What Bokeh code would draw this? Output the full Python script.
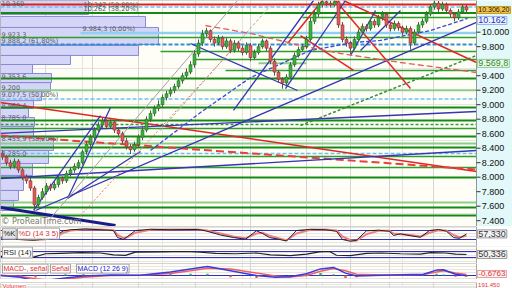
from bokeh.plotting import figure
from bokeh.layouts import column
from bokeh.models import Range1d, FixedTicker, Label, Grid, ColumnDataSource
from bokeh.embed import file_html
from bokeh.resources import INLINE
from bokeh.core.properties import value

# ---------------- price data (daily candles) ----------------
closes = [8280, 8200, 8150, 8220, 8100, 8000, 7950, 7850, 7620, 7720,
          7800, 7880, 7850, 7900, 7980, 7950, 8050, 8100, 8150, 8200,
          8350, 8450, 8550, 8650, 8720, 8780, 8700, 8760, 8650, 8600,
          8500, 8420, 8380, 8450, 8550, 8650, 8800, 8880, 8950, 9000,
          9100, 9150, 9200, 9250, 9330, 9400, 9450, 9550, 9700, 9850,
          9980, 10020, 9900, 9850, 9920, 9800, 9880, 9750, 9850, 9780,
          9720, 9820, 9650, 9720, 9800, 9880, 9780, 9600, 9450, 9350,
          9300, 9380, 9550, 9680, 9760, 9800, 9900, 10150, 10250, 10380,
          10420, 10400, 10380, 10420, 10100, 9900, 9850, 9780, 9900, 10000,
          10080, 10050, 10150, 10100, 10200, 10250, 10100, 10050, 10120, 10060,
          10000, 10050, 9850, 10000, 10100, 10150, 10250, 10350, 10400, 10320,
          10380, 10300, 10250, 10200, 10280, 10350, 10306]
opens = [8330, 8280, 8200, 8150, 8220, 8100, 8000, 7950, 7850, 7620,
         7720, 7800, 7880, 7850, 7900, 7980, 7950, 8050, 8100, 8150,
         8200, 8350, 8450, 8550, 8650, 8720, 8780, 8700, 8760, 8650,
         8600, 8500, 8420, 8380, 8450, 8550, 8650, 8800, 8880, 8950,
         9000, 9100, 9150, 9200, 9250, 9330, 9400, 9450, 9550, 9700,
         9850, 9980, 10020, 9900, 9850, 9920, 9800, 9880, 9750, 9850,
         9780, 9720, 9820, 9650, 9720, 9800, 9880, 9780, 9600, 9450,
         9350, 9300, 9380, 9550, 9680, 9760, 9800, 9900, 10150, 10250,
         10380, 10420, 10400, 10380, 10420, 10100, 9900, 9850, 9780, 9900,
         10000, 10080, 10050, 10150, 10100, 10200, 10250, 10100, 10050, 10120,
         10060, 10000, 10050, 9850, 10000, 10100, 10150, 10250, 10350, 10400,
         10320, 10380, 10300, 10250, 10200, 10280, 10350]
highs = [8370, 8310, 8240, 8260, 8250, 8130, 8040, 7990, 7880, 7760,
         7850, 7920, 7910, 7940, 8020, 8010, 8090, 8140, 8190, 8240,
         8380, 8490, 8590, 8690, 8760, 8820, 8800, 8800, 8790, 8690,
         8630, 8540, 8460, 8490, 8590, 8700, 8840, 8920, 8990, 9060,
         9140, 9190, 9240, 9290, 9370, 9440, 9500, 9600, 9750, 9900,
         10030, 10060, 10040, 9940, 9960, 9950, 9920, 9910, 9890, 9880,
         9820, 9860, 9850, 9760, 9840, 9910, 9900, 9810, 9640, 9480,
         9380, 9420, 9590, 9720, 9800, 9840, 9950, 10200, 10300, 10420,
         10460, 10450, 10430, 10460, 10440, 10140, 9940, 9880, 9940, 10040,
         10120, 10110, 10190, 10180, 10240, 10290, 10280, 10130, 10160, 10150,
         10090, 10090, 10080, 10040, 10140, 10190, 10290, 10390, 10440, 10430,
         10420, 10410, 10330, 10280, 10320, 10390, 10380]
lows = [8240, 8160, 8110, 8120, 8060, 7960, 7910, 7810, 7540, 7590,
        7690, 7760, 7810, 7820, 7860, 7910, 7920, 8010, 8060, 8110,
        8170, 8310, 8410, 8510, 8610, 8680, 8660, 8670, 8610, 8560,
        8460, 8380, 8320, 8350, 8420, 8510, 8620, 8760, 8840, 8910,
        8970, 9060, 9110, 9160, 9220, 9290, 9360, 9420, 9510, 9660,
        9810, 9940, 9860, 9800, 9820, 9760, 9770, 9710, 9720, 9740,
        9680, 9690, 9600, 9620, 9690, 9770, 9740, 9560, 9400, 9300,
        9220, 9270, 9350, 9520, 9650, 9730, 9770, 9870, 10110, 10210,
        10340, 10360, 10340, 10350, 10060, 9860, 9800, 9700, 9750, 9870,
        9970, 10010, 10020, 10060, 10070, 10160, 10060, 10010, 10020, 10020,
        9960, 9970, 9760, 9820, 9970, 10060, 10120, 10220, 10310, 10280,
        10290, 10260, 10200, 10150, 10170, 10250, 10270]

# price axis
price_ticks = [7400, 7600, 7800, 8000, 8200, 8400, 8600, 8800, 9000, 9200, 9400, 9800, 10000]
price_tick_labels = ["7.400", "7.600", "7.800", "8.000", "8.200", "8.400", "8.600", "8.800",
                     "9.000", "9.200", "9.400", "9.800", "10.000"]
last_price = 10306.2
last_price_label = "10.306,20"
ma_last = 10162
ma_last_label = "10.162"
level_marker = 9569.8
level_marker_label = "9.569,8"

# horizontal support / resistance / fibonacci levels
levels = [10382, 10348, 10265, 10203, 9989, 9927, 9830, 9734, 9623, 9570, 9472, 9361, 9200,
          9077, 8961, 8782, 8727, 8672, 8563, 8466, 8410, 8328, 8286, 8134, 7996, 7651, 7582, 7471]
level_start = [-0.5, -0.5, -0.5, 75, 19.5, -0.5, -0.5, 39.5, 47.75, 64, 55.75, -0.5, -0.5,
               -0.5, -0.5, -0.5, -0.5, -0.5, -0.5, -0.5, -0.5, -0.5, -0.5, -0.5, -0.5, -0.5, -0.5, -0.5]
level_end = [118.5] * 9 + [76] + [118.5] * 18
level_kind = ["red", "fibd", "dg", "g", "fib", "g", "tealdash", "g", "g", "lg", "g", "dg", "lg",
              "fibd", "dg", "dg", "gdash", "g", "dg", "lg", "dg", "fibd", "g", "g", "dg", "lg", "dg", "dg"]

# level labels sitting on top of their lines (text, x index, price)
level_texts = ["10.262 (38,20%)", "9.984,3 (0,00%)", "9.923,3",
               "9.888,2 (61,80%)", "9.353,6", "9.200", "9.077,5 (50,00%)", "8.960,4",
               "8.785,0", "8.455,9 (38,20%)", "8.285,0"]
level_text_x = [20.25, 20.0, -0.25, -0.25, -0.25, -0.25, -0.25, -0.25, -0.25, -0.25, -0.25]
level_text_y = [10265, 9989, 9927, 9830, 9361, 9200, 9077, 8961, 8782, 8466, 8286]
# labels hanging from the top edge of the panel
top_texts = ["10.360", "10.347 (50,00%)"]
top_text_x = [-0.25, 20.25]
top_text_y = [10437, 10437]

# volume-by-price profile
profile_lo = [10244, 10065, 9830, 9679, 9554, 9430, 9304, 9180, 9056, 8948, 8824, 8700, 8562,
              8369, 8189, 8024, 7817, 7679, 7541]
profile_hi = [10437, 10217, 10065, 9817, 9679, 9554, 9430, 9304, 9180, 9056, 8948, 8824, 8700,
              8562, 8369, 8189, 8024, 7817, 7679]
profile_len = [22, 36.25, 39.5, 34.5, 17.5, 8, 12.75, 12.5, 10.25, 8.25, 7, 8.5, 8.25,
               13.25, 12, 8, 5.75, 4.5, 3.25]

# trendlines: (x0, y0, x1, y1) in candle index / price
trend_red = [(-0.5, 9030, 118.5, 8079), (71.25, 9844, 82, 10575), (83.25, 10437, 102, 9223),
             (85.25, 10437, 118.5, 9582), (74.5, 9954, 87.75, 9472)]
trend_red_dash = [(-0.5, 8575, 118.5, 8106)]
trend_blue = [(8.25, 7541, 118.5, 10134), (-0.5, 8603, 118.5, 8906), (-0.5, 7982, 118.5, 8368),
              (7.75, 7541, 24.5, 8850), (16.25, 7706, 27, 8961), (16.25, 7706, 34.5, 8355),
              (70.75, 9223, 85.75, 10437), (57.75, 8920, 77.75, 10437), (87, 9679, 93.25, 10299),
              (89.5, 9748, 99.5, 10299), (47, 9844, 73.75, 9196)]
trend_navy = [(-0.5, 7582, 28.25, 7334)]
trend_grey = [(11.5, 7403, 58.75, 10437)]
trend_grey_dash = [(39.5, 8644, 67, 10368)]
trend_red_dot = [(19.5, 7472, 59.5, 9886)]
trend_green_dash = [(74.5, 8713, 118.5, 9679)]
ma_blue_x = [37, 49.5, 62, 77, 87.75, 94.5, 107, 116.25]
ma_blue_y = [8368, 8892, 9375, 9748, 9858, 9886, 10023, 10189]
ma_red_x = [50.75, 62, 74.5, 84.5, 99.5, 118.5]
ma_red_y = [10092, 9982, 9817, 9706, 9582, 9444]

grid_x = [10.75, 22.5, 34, 48.25, 62, 76, 87, 96.75, 107.75]

# ---------------- indicators ----------------
stoch_x = [-0.5, 2, 4.5, 7.75, 10.25, 13.25, 15.25, 17, 20.75, 24.5, 27.75, 28.75, 30.25, 31.25,
           33.25, 37, 42, 48.75, 50.75, 54.5, 57.75, 60.75, 63.5, 65, 66.75, 69, 71, 73.5, 77,
           80.75, 83.5, 85, 87, 88.5, 91, 94, 96.75, 97.75, 99.5, 102, 104.5, 106.75, 109, 111,
           112.75, 114.25, 116]
stoch_k = [30, 25, 20, 15, 22, 45, 78, 85, 90, 85, 80, 33, 20, 40, 80, 88, 85, 87, 78, 50, 33, 22,
           78, 60, 33, 22, 10, 80, 88, 85, 75, 20, 8, 15, 78, 82, 75, 47, 58, 45, 35, 80, 87, 75,
           33, 28, 57]
stoch_d = [35, 28, 22, 18, 20, 38, 65, 80, 88, 87, 82, 50, 30, 35, 65, 85, 86, 86, 82, 60, 40, 28,
           60, 65, 45, 28, 15, 60, 85, 86, 80, 40, 15, 12, 55, 78, 78, 60, 55, 50, 40, 65, 82, 80,
           50, 35, 45]
stoch_last, stoch_last_label = 57.33, "57,330"
rsi_x = [-0.5, 3.25, 7.75, 10.75, 14.5, 19.5, 24.5, 27.75, 30.75, 33.25, 39.5, 45.75, 49.5, 53.25,
         58.25, 63.5, 67, 72, 76, 79.25, 81.75, 83.5, 87, 91, 94.5, 99.5, 104.5, 107, 110.75,
         113.25, 116]
rsi_v = [38, 35, 32, 55, 58, 62, 60, 48, 44, 66, 68, 70, 65, 58, 55, 60, 48, 42, 52, 68, 70, 45,
         42, 58, 60, 55, 52, 62, 60, 52, 50]
rsi_last, rsi_last_label = 50.336, "50,336"
macd_x = [-0.5, 4.5, 8.25, 11.25, 15.75, 20.25, 27, 34.5, 42, 47, 51.25, 57, 63.5, 68.25, 71.75,
          76, 79.5, 82.75, 85.75, 88.5, 97, 105.25, 108.5, 110.25, 113.25, 116]
macd_v = [0, -30, -90, -80, -40, -10, 10, 5, 60, 110, 150, 80, 0, -30, -20, 30, 110, 135, 40, -10,
          10, 20, 90, 95, 20, -5]
macd_sig = [5, -15, -55, -75, -60, -30, 0, 5, 35, 80, 120, 110, 40, -10, -25, 0, 70, 115, 80, 20,
            5, 15, 60, 80, 40, 15]
macd_last_label = "-0,6763"
volume_last_label = "191.450"

# ---------------- drawing ----------------
FONT = "DejaVu Sans"
AX_FONT = "Liberation Sans"
BG = "#fefef6"
X_END = 118.5          # right edge of the candle area
XR = Range1d(-0.5, 127.5)
COL = {"red": ("#e02020", 2, "solid"), "fibd": ("#6cc0f0", 1.5, "4 2"), "dg": ("#138a13", 2, "solid"),
       "g": ("#2e9e2e", 1.5, "solid"), "fib": ("#8fd0f2", 2.5, "solid"), "tealdash": ("#2f8fd0", 2, "4 2"),
       "lg": ("#8ccc8c", 2, "solid"), "gdash": ("#2e9e2e", 1.5, "3 2")}


def panel(h, yr):
    f = figure(width=512, height=h, x_range=XR, y_range=Range1d(*yr), output_backend="svg",
               toolbar_location=None, min_border=0, x_axis_location=None, y_axis_location=None)
    f.background_fill_color = BG
    f.border_fill_color = "white"
    f.outline_line_color = None
    f.add_layout(Grid(dimension=0, ticker=FixedTicker(ticks=grid_x), grid_line_color="#d6d6d6"))
    return f


def axis_strip(f, yr, bg):
    f.quad(left=X_END, right=127.5, bottom=yr[0], top=yr[1], fill_color=bg, line_color=None)
    f.quad(left=-0.5, right=X_END, bottom=yr[0], top=yr[1], fill_color=None,
           line_color="#a8a8a8", line_width=1)


def rlabel(fig, y, text, fg, bg, border, size="9px", base="middle"):
    fig.add_layout(Label(x=118.7, y=y, text=text, text_font=AX_FONT, text_font_size=size,
                         text_color=fg, text_baseline=base, background_fill_color=bg,
                         border_line_color=border, padding=1))


def tag(fig, x, y, text, color, bg="#ffffff", size="7.5px", base="top", pad=1, border="#a0a0a0"):
    fig.add_layout(Label(x=x, y=y, text=text, text_font=AX_FONT, text_font_size=size,
                         text_color=color, text_baseline=base, background_fill_color=bg,
                         border_line_color=border, padding=pad))


# ---- main price panel ----
MY = (7320, 10437)
main = panel(226, MY)

main.quad(left=-0.5, right=[-0.5 + v for v in profile_len], bottom=profile_lo, top=profile_hi,
          fill_color="#d2d3f7", fill_alpha=0.95, line_color="#8a8ad6", line_width=1)

for lv, x0, x1, k in zip(levels, level_start, level_end, level_kind):
    c, w, d = COL[k]
    main.line([x0, x1], [lv, lv], line_color=c, line_width=w, line_dash=d)


def draw(lines, **kw):
    for (x0, y0, x1, y1) in lines:
        main.line([x0, x1], [y0, y1], **kw)


draw(trend_red, line_color="#e42424", line_width=1.5)
draw(trend_red_dash, line_color="#e84040", line_width=2, line_dash="8 4")
draw(trend_blue, line_color="#3535b5", line_width=1.3)
draw(trend_navy, line_color="#1a1a8a", line_width=3)
draw(trend_grey, line_color="#a0a0a0", line_width=1)
draw(trend_grey_dash, line_color="#a8a8a8", line_width=1, line_dash="3 2")
draw(trend_red_dot, line_color="#f07070", line_width=1, line_dash="2 2")
draw(trend_green_dash, line_color="#3a8a3a", line_width=1.5, line_dash="3 2")
main.line(ma_blue_x, ma_blue_y, line_color="#3a4ad8", line_width=1.3, line_dash="4 2")
main.line(ma_red_x, ma_red_y, line_color="#e85a5a", line_width=1.3, line_dash="6 3")

n = len(closes)
up = [c >= o for o, c in zip(opens, closes)]
src = ColumnDataSource(dict(
    x=list(range(n)), h=highs, l=lows,
    top=[max(o, c) for o, c in zip(opens, closes)],
    bot=[min(o, c) for o, c in zip(opens, closes)],
    fc=["#3cb13c" if u else "#e25a5a" for u in up],
    lc=["#1f6a1f" if u else "#8a2a2a" for u in up]))
main.segment(x0="x", y0="l", x1="x", y1="h", source=src, line_color="#555555", line_width=1)
main.vbar(x="x", width=0.72, top="top", bottom="bot", source=src, fill_color="fc",
          line_color="lc", line_width=0.6)

main.text(x=level_text_x, y=level_text_y, text=level_texts, text_font=value(FONT),
          text_font_size="6.5px", text_color="#5a5a5a", text_baseline="bottom")
main.text(x=top_text_x, y=top_text_y, text=top_texts, text_font=value(FONT),
          text_font_size="6.5px", text_color="#5a5a5a", text_baseline="top")
main.text(x=[-0.25], y=[7385], text=["\u00a9 ProRealTime.com"], text_font=value(FONT),
          text_font_size="8px", text_color="#777777", text_baseline="middle")

# price axis (right)
axis_strip(main, MY, "#e3f8f8")
main.segment(x0=X_END, x1=X_END, y0=MY[0], y1=MY[1], line_color="#8a9a9a", line_width=1)
main.segment(x0=[X_END] * len(price_ticks), x1=[X_END + 1] * len(price_ticks),
             y0=price_ticks, y1=price_ticks, line_color="#333333", line_width=1)
main.text(x=[X_END + 1.3] * len(price_ticks), y=price_ticks, text=price_tick_labels,
          text_font=value(AX_FONT), text_font_size="9px", text_color="#111111",
          text_baseline="middle")
rlabel(main, last_price, last_price_label, "#111111", "#f6c445", "#c89a20", "7px")
rlabel(main, ma_last, ma_last_label, "#2233cc", "#eef4ff", "#9ab0e0")
rlabel(main, level_marker, level_marker_label, "#2a8a2a", "#eefaee", "#90c890")

# ---- stochastic ----
SY = (-26.7, 106.7)
st = panel(20, SY)
for lv in (80, 20):
    st.line([-0.5, X_END], [lv, lv], line_color="#3030c8", line_width=1.2)
st.line(stoch_x, stoch_d, line_color="#f08080", line_width=2)
st.line(stoch_x, stoch_k, line_color="#222222", line_width=1)
axis_strip(st, SY, "white")
tag(st, 0, 96, "%K", "#222222", "#e4e4e4")
tag(st, 3.75, 96, "%D (14 3 5)", "#e03030")
rlabel(st, stoch_last, stoch_last_label, "#333333", "#f2f2f2", "#999999")

# ---- RSI ----
RY = (-10, 103.3)
rs = panel(17, RY)
for lv in (70, 30):
    rs.line([-0.5, X_END], [lv, lv], line_color="#3030c8", line_width=1.2)
rs.line(rsi_x, rsi_v, line_color="#222222", line_width=1.2)
axis_strip(rs, RY, "white")
tag(rs, 0, 100, "RSI (14)", "#222222")
rlabel(rs, rsi_last, rsi_last_label, "#333333", "#f2f2f2", "#999999")

# ---- MACD ----
CY = (-66.7, 200)
mc = panel(16, CY)
mc.line([-0.5, X_END], [0, 0], line_color="#3030c8", line_width=1.2)
mc.vbar(x=macd_x, width=0.6, top=[m - s for m, s in zip(macd_v, macd_sig)], bottom=0,
        fill_color=["#3cb13c" if m >= s else "#e25a5a" for m, s in zip(macd_v, macd_sig)],
        line_color=None)
mc.line(macd_x, macd_sig, line_color="#f06060", line_width=1.5)
mc.line(macd_x, macd_v, line_color="#3a3ae0", line_width=1.5)
axis_strip(mc, CY, "white")
tag(mc, 0, 190, "MACD-, se\u00f1al", "#e03030", size="7px")
tag(mc, 12, 190, "Se\u00f1al", "#e03030", size="7px")
tag(mc, 18.5, 190, "MACD (12 26 9)", "#2020c0", size="7px")
rlabel(mc, 25, macd_last_label, "#e03030", "#fff4f4", "#e0a0a0", "8px")

# ---- volume (only the top strip is visible) ----
VY = (0, 10)
vo = panel(9, VY)
axis_strip(vo, VY, "white")
tag(vo, 0, 9.8, "Volumen", "#e03030", size="6px", base="top", pad=0, border=None)
vo.add_layout(Label(x=118.9, y=9.8, text=volume_last_label, text_font=AX_FONT,
                    text_font_size="6px", text_color="#e03030", text_baseline="top"))

layout = column(main, st, rs, mc, vo, spacing=0)
open("out.html", "w").write(file_html(layout, INLINE))
